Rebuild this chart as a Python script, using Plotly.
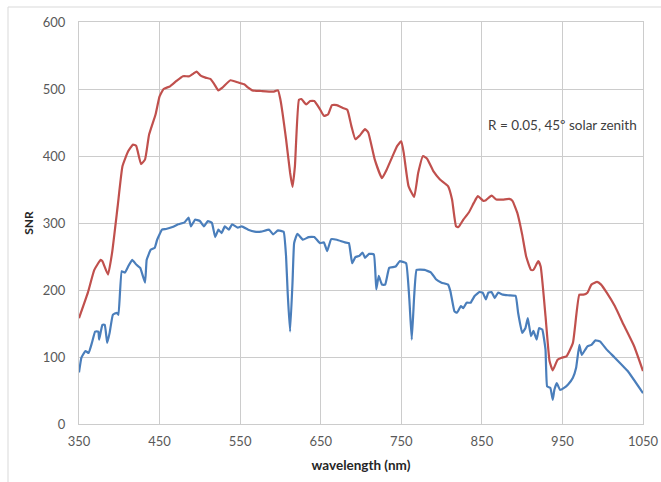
import plotly.graph_objects as go

# Red curve: higher-SNR configuration
red_wl = [350, 361, 369, 377, 379, 386, 391, 398, 404, 411, 417, 421, 427, 432, 437, 445,
          450, 455, 463, 471, 479, 487, 492, 496, 501, 507, 513, 518, 523, 528, 538, 547,
          555, 560, 565, 576, 591, 597, 600, 607, 612, 615, 618, 623, 626, 632, 637, 642,
          649, 654, 659, 664, 670, 677, 683, 688, 693, 698, 705, 709, 717, 726, 732, 740,
          745, 750, 753, 759, 766, 771, 777, 782, 790, 798, 808, 813, 818, 821, 827, 834,
          840, 845, 852, 855, 862, 868, 876, 884, 888, 894, 900, 905, 911, 914, 920, 923,
          929, 934, 938, 944, 949, 955, 963, 971, 976, 981, 986, 993, 998, 1005, 1015,
          1026, 1039, 1050]
red_snr = [158, 196, 230, 245, 243, 223, 255, 325, 385, 407, 417, 415, 388, 395, 432, 462,
           489, 500, 504, 512, 519, 519, 523, 526, 520, 517, 515, 507, 498, 502, 513, 510,
           507, 502, 498, 497, 496, 498, 484, 425, 375, 354, 385, 484, 485, 477, 482, 482,
           470, 460, 462, 476, 476, 472, 469, 445, 425, 430, 440, 435, 395, 367, 380, 402,
           415, 422, 405, 355, 339, 375, 400, 396, 377, 365, 355, 335, 295, 294, 305, 316,
           330, 340, 333, 334, 341, 335, 335, 336, 333, 315, 283, 250, 230, 230, 243, 235,
           161, 94, 80, 96, 99, 101, 121, 193, 193, 196, 208, 212, 208, 196, 176,
           148, 116, 79]

# Blue curve: lower-SNR configuration
blue_wl = [350, 353, 358, 362, 366, 370, 374, 375, 379, 382, 385, 388, 392, 397, 399, 403,
           407, 411, 416, 421, 426, 432, 434, 439, 444, 447, 453, 458, 466, 473, 481, 486,
           489, 494, 500, 505, 510, 515, 519, 523, 527, 531, 536, 540, 547, 552, 560, 568,
           576, 586, 591, 597, 604, 607, 609, 612, 615, 617, 621, 628, 635, 642, 649, 654,
           658, 663, 670, 680, 685, 689, 693, 698, 702, 705, 710, 716, 719, 722, 726, 730,
           735, 743, 748, 756, 760, 763, 766, 769, 779, 787, 793, 800, 808, 811, 816, 819,
           824, 827, 831, 836, 841, 847, 851, 855, 858, 862, 866, 870, 876, 884, 892, 895,
           900, 904, 907, 911, 914, 918, 921, 925, 929, 931, 935, 938, 940, 943, 947, 952,
           957, 963, 967, 971, 974, 981, 986, 991, 997, 1005, 1015, 1031, 1050]
blue_snr = [77, 99, 109, 106, 121, 138, 138, 126, 148, 148, 121, 136, 163, 166, 163, 228,
            226, 235, 245, 238, 233, 211, 245, 260, 263, 275, 290, 291, 294, 298, 301, 308,
            295, 305, 303, 295, 303, 300, 279, 290, 285, 295, 290, 298, 293, 295, 290, 287,
            287, 290, 283, 289, 287, 250, 196, 138, 211, 270, 284, 275, 279, 279, 270, 271,
            258, 276, 275, 271, 270, 240, 249, 251, 256, 248, 254, 253, 201, 221, 208, 208,
            233, 235, 243, 240, 186, 126, 191, 230, 230, 226, 216, 211, 208, 198, 168, 166,
            176, 173, 181, 181, 191, 197, 196, 186, 196, 197, 188, 196, 193, 192, 191, 166,
            136, 143, 158, 131, 139, 126, 143, 141, 111, 56, 54, 36, 51, 61, 51, 54,
            59, 69, 84, 118, 103, 116, 118, 125, 123, 111, 99, 79, 46]

x_ticks = [350, 450, 550, 650, 750, 850, 950, 1050]
y_ticks = [0, 100, 200, 300, 400, 500, 600]

FONT = "Lato, 'Open Sans', sans-serif"
TEXT = "#595959"
GRID = "#cccccc"

fig = go.Figure()
fig.add_trace(go.Scatter(x=red_wl, y=red_snr, mode="lines",
                         line=dict(color="#c0504d", width=2.2, shape="spline", smoothing=0.4),
                         showlegend=False))
fig.add_trace(go.Scatter(x=blue_wl, y=blue_snr, mode="lines",
                         line=dict(color="#4a7ebb", width=2.2, shape="spline", smoothing=0.3),
                         showlegend=False))

fig.add_annotation(x=1.0, y=0.745, xref="paper", yref="paper", xanchor="right",
                   xshift=-4, yanchor="middle", showarrow=False,
                   text="R = 0.05, 45º solar zenith",
                   font=dict(family=FONT, size=13.5, color="#404040"))

# Outer chart-area frame
fig.add_shape(type="rect", xref="paper", yref="paper",
              x0=-71 / 564, x1=1.2, y0=-0.3, y1=(402 + 15) / 402,
              line=dict(color="#d9d9d9", width=1), layer="below")

fig.update_layout(
    width=661, height=482,
    margin=dict(l=79, r=18, t=22, b=58, autoexpand=False),
    paper_bgcolor="white", plot_bgcolor="white",
    font=dict(family=FONT, size=13, color=TEXT),
    xaxis=dict(range=[350, 1050], tickvals=x_ticks, ticktext=[str(v) for v in x_ticks],
               showgrid=True, gridcolor=GRID, gridwidth=1, zeroline=False,
               showline=True, linecolor=GRID, mirror=True, ticks="", ticklen=0,
               automargin=False, ticklabelstandoff=5,
               tickfont=dict(size=13, color=TEXT),
               title=dict(text="<b>wavelength (nm)</b>", standoff=12,
                          font=dict(size=13.5, color="#262626"))),
    yaxis=dict(range=[0, 600], tickvals=y_ticks, ticktext=[str(v) for v in y_ticks],
               showgrid=True, gridcolor=GRID, gridwidth=1, zeroline=False,
               showline=True, linecolor=GRID, mirror=True, ticks="", ticklen=0,
               automargin=False, ticklabelstandoff=10,
               tickfont=dict(size=13, color=TEXT),
               title=dict(text="<b>SNR</b>", standoff=6,
                          font=dict(size=12, color="#262626"))),
)

fig.write_html("out.html")
